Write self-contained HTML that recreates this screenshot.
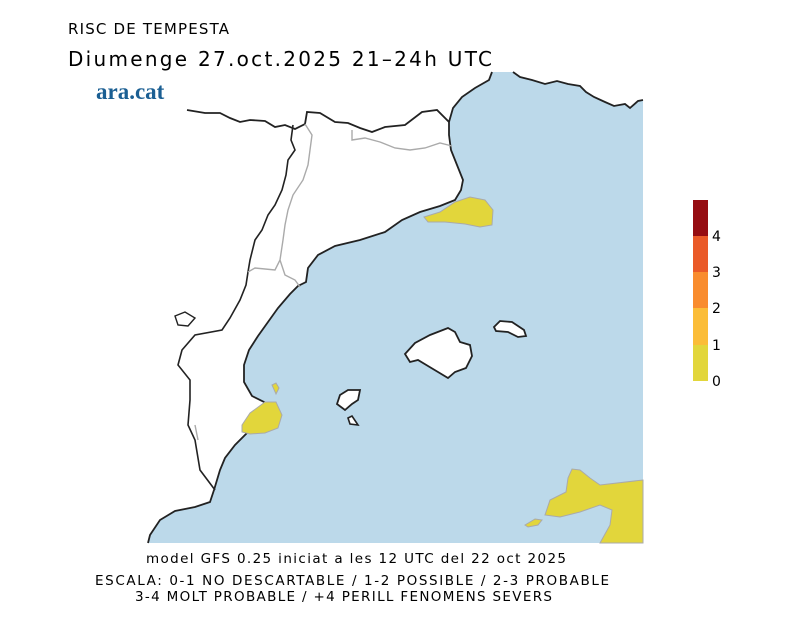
<!DOCTYPE html>
<html><head><meta charset="utf-8"><style>
body{margin:0;background:#fff;width:800px;height:617px;overflow:hidden}
svg{display:block}
text{font-family:"DejaVu Sans","Liberation Sans",sans-serif;fill:#000}
</style></head><body>
<svg width="800" height="617" viewBox="0 0 800 617">
<!-- sea -->
<path fill="#bcd9ea" d="M492,72 L513,72 L520,77 L532,80 L545,84 L557,81 L568,84 L580,86 L586,92 L594,97 L605,102 L614,106 L625,104 L630,108 L638,101 L643,100 L643,543 L148,543 L150,535 L160,520 L175,511 L195,507 L210,502 L214,490 L220,470 L225,458 L235,445 L248,432 L262,430 L272,424 L276,412 L268,404 L252,396 L244,382 L244,365 L249,350 L258,336 L268,322 L278,308 L290,294 L298,286 L306,282 L308,268 L318,255 L335,246 L360,240 L385,232 L402,220 L420,212 L440,206 L455,200 L461,190 L463,180 L457,165 L451,150 L449,135 L449,122 L453,108 L462,97 L475,88 L489,80 Z"/>
<!-- coast line -->
<path fill="none" stroke="#222" stroke-width="1.8" d="M492,72 L489,80 L475,88 L462,97 L453,108 L449,122 L449,135 L451,150 L457,165 L463,180 L461,190 L455,200 L440,206 L420,212 L402,220 L385,232 L360,240 L335,246 L318,255 L308,268 L306,282 L298,286 L290,294 L278,308 L268,322 L258,336 L249,350 L244,365 L244,382 L252,396 L268,404 L276,412 L272,424 L262,430 L248,432 L235,445 L225,458 L220,470 L214,490 L210,502 L195,507 L175,511 L160,520 L150,535 L148,543"/>
<path fill="none" stroke="#222" stroke-width="1.8" d="M513,72 L520,77 L532,80 L545,84 L557,81 L568,84 L580,86 L586,92 L594,97 L605,102 L614,106 L625,104 L630,108 L638,101 L643,100"/>
<!-- France border -->
<path fill="none" stroke="#222" stroke-width="1.8" d="M187,110 L205,113 L220,113 L230,118 L240,122 L250,120 L265,121 L275,127 L285,125 L295,129 L305,124 L307,112 L320,113 L335,122 L348,123 L360,128 L372,132 L385,127 L405,125 L422,112 L437,110 L449,122"/>
<!-- Catalonia-Aragon etc black -->
<path fill="none" stroke="#222" stroke-width="1.6" d="M293,125 L291,140 L295,150 L288,160 L286,175 L282,190 L275,205 L268,215 L262,230 L255,240 L250,260 L248,272 L246,285 L240,300 L230,318 L222,330 L195,335 L182,350 L178,365 L190,380 L190,400 L188,425 L195,440 L200,470 L215,490"/>
<path fill="none" stroke="#222" stroke-width="1.4" d="M175,316 L185,312 L195,318 L188,326 L178,325 Z"/>
<!-- grey province lines -->
<path fill="none" stroke="#aaa" stroke-width="1.4" d="M305,124 L312,135 L310,150 L308,165 L303,180 L293,195 L288,210 L285,225 L283,240 L280,260 L275,270 L255,268 L248,272 M280,260 L285,275 L295,280 L300,287 M352,130 L352,140 L365,138 L380,142 L395,148 L410,150 L425,148 L440,143 L452,146 M195,425 L198,440"/>
<!-- islands -->
<path fill="#fff" stroke="#222" stroke-width="1.8" d="M405,354 L415,343 L430,335 L448,328 L455,332 L460,342 L470,345 L472,356 L466,368 L455,372 L448,378 L438,372 L428,366 L418,360 L410,362 Z"/>
<path fill="#fff" stroke="#222" stroke-width="1.8" d="M494,327 L500,321 L512,322 L524,330 L526,336 L518,337 L508,332 L496,331 Z"/>
<path fill="#fff" stroke="#222" stroke-width="1.8" d="M340,395 L348,390 L360,390 L358,400 L352,404 L345,410 L337,404 Z"/>
<path fill="#fff" stroke="#222" stroke-width="1.6" d="M348,418 L352,416 L356,422 L358,425 L350,424 Z"/>
<!-- yellow blobs -->
<g fill="#e2d63b" stroke="#aaa" stroke-width="1">
<path d="M424,217 L440,212 L455,202 L470,197 L485,200 L493,210 L492,225 L480,227 L465,224 L445,222 L428,222 Z"/>
<path d="M272,385 L276,383 L279,388 L276,394 Z"/>
<path d="M242,425 L250,413 L265,402 L276,402 L282,415 L278,428 L265,433 L250,434 L242,432 Z"/>
<path d="M568,478 L572,469 L580,470 L590,478 L600,485 L643,480 L643,543 L600,543 L610,525 L612,510 L600,505 L580,512 L560,517 L545,515 L550,500 L566,492 Z"/>
<path d="M525,525 L535,519 L542,520 L538,525 L528,527 Z"/>
</g>
<!-- colorbar -->
<rect x="693" y="200" width="15" height="36" fill="#960d12"/>
<rect x="693" y="236" width="15" height="36" fill="#ea5a28"/>
<rect x="693" y="272" width="15" height="36" fill="#f98c2e"/>
<rect x="693" y="308" width="15" height="37" fill="#fbbd38"/>
<rect x="693" y="345" width="15" height="36" fill="#e2d63b"/>
<g font-size="14">
<text x="712" y="241">4</text><text x="712" y="277">3</text><text x="712" y="313">2</text><text x="712" y="350">1</text><text x="712" y="386">0</text>
</g>
<!-- titles -->
<text x="68" y="34" font-size="15" textLength="161" lengthAdjust="spacing">RISC DE TEMPESTA</text>
<text x="68" y="66" font-size="20" textLength="424" lengthAdjust="spacing">Diumenge  27.oct.2025 21–24h UTC</text>
<text x="96" y="99" font-size="23" font-weight="bold" style="font-family:'Liberation Serif',serif;fill:#1b5f93">ara.cat</text>
<text x="146" y="563" font-size="13.5" textLength="420" lengthAdjust="spacing">model GFS 0.25 iniciat a les 12 UTC del 22 oct 2025</text>
<text x="95" y="585" font-size="13.5" textLength="514" lengthAdjust="spacing">ESCALA: 0-1 NO DESCARTABLE / 1-2 POSSIBLE / 2-3 PROBABLE</text>
<text x="135" y="601" font-size="13.5" textLength="417" lengthAdjust="spacing">3-4 MOLT PROBABLE / +4 PERILL FENOMENS SEVERS</text>
</svg>
</body></html>
